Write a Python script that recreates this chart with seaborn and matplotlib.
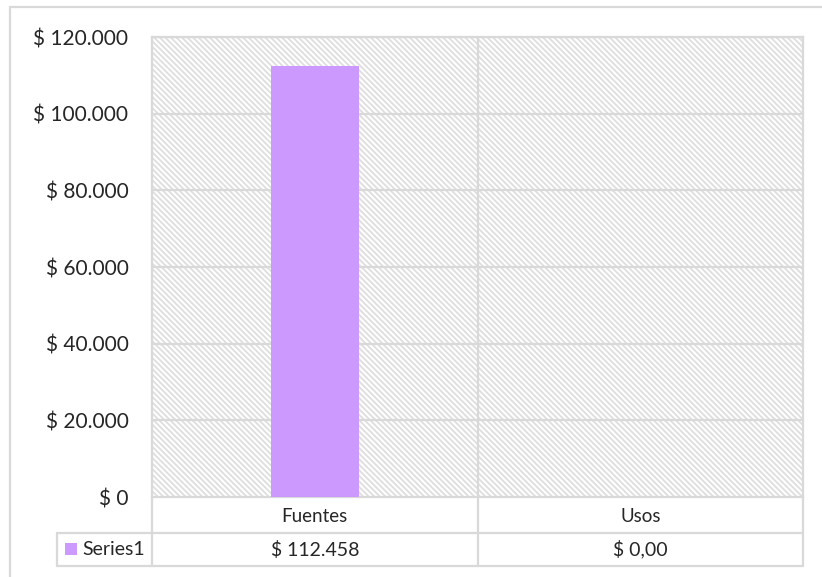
import matplotlib
matplotlib.use("Agg")
import matplotlib.pyplot as plt
from matplotlib.patches import Rectangle
from matplotlib.lines import Line2D
import seaborn as sns

# Data
categories = ["Fuentes", "Usos"]
values = [112458, 0]
value_labels = ["$ 112.458", "$ 0,00"]
series_name = "Series1"
y_ticks = [0, 20000, 40000, 60000, 80000, 100000, 120000]

BAR_COLOR = "#CC99FF"
GRID = "#d9d9d9"
HATCH = "#dedede"
TEXT = "#262626"

sns.set_theme(style="white")
plt.rcParams["font.family"] = ["Lato", "DejaVu Sans"]
plt.rcParams["hatch.color"] = HATCH
plt.rcParams["hatch.linewidth"] = 1.3

W, H = 822, 577
fig = plt.figure(figsize=(W / 100, H / 100), dpi=100)


def fx(px):
    return px / W


def fy(py):
    return 1 - py / H


# plot area in pixel bounds
L, R, T, B = 152, 803, 37, 497
ax = fig.add_axes([fx(L), fy(B), fx(R) - fx(L), fy(T) - fy(B)])

# hatched plot-area background
ax.add_patch(Rectangle((0, 0), 1, 1, transform=ax.transAxes, facecolor="white",
                       edgecolor=HATCH, hatch="\\" * 6, lw=0, zorder=0))

sns.barplot(x=categories, y=values, ax=ax, color=BAR_COLOR, saturation=1,
            width=0.27, linewidth=0, zorder=3)

ax.set_xlim(-0.5, len(categories) - 0.5)
ax.set_ylim(y_ticks[0], y_ticks[-1])
ax.set_yticks(y_ticks)
ax.set_yticklabels([f"$ {v:,.0f}".replace(",", ".") for v in y_ticks],
                   fontsize=15, color=TEXT)
ax.tick_params(axis="y", length=0, pad=17)
ax.set_xticks([])
ax.set_xlabel("")
ax.set_ylabel("")

for v in y_ticks[1:]:
    ax.axhline(v, color=GRID, lw=1.6, zorder=1)
for i in range(1, len(categories)):
    ax.axvline(i - 0.5, color=GRID, lw=1.6, zorder=1)

for s in ax.spines.values():
    s.set_color(GRID)
    s.set_linewidth(1.6)

# data table under the plot area
row1_top, row1_bot, row2_bot = B, 533, 566
table_left = 57
col_edges = [L] + [L + (R - L) * (i + 1) / len(categories) for i in range(len(categories))]


def hline(y, x0, x1):
    fig.add_artist(Line2D([fx(x0), fx(x1)], [fy(y), fy(y)], color=GRID, lw=1.6))


def vline(x, y0, y1):
    fig.add_artist(Line2D([fx(x), fx(x)], [fy(y0), fy(y1)], color=GRID, lw=1.6))


hline(row1_bot, table_left, R)
hline(row2_bot, table_left, R)
vline(table_left, row1_bot, row2_bot)
for x in col_edges:
    vline(x, row1_top, row2_bot)

for i, (cat, lab) in enumerate(zip(categories, value_labels)):
    cx = (col_edges[i] + col_edges[i + 1]) / 2
    fig.text(fx(cx), fy((row1_top + row1_bot) / 2 + 1), cat, ha="center", va="center",
             fontsize=13.5, color=TEXT)
    fig.text(fx(cx), fy((row1_bot + row2_bot) / 2), lab, ha="center", va="center",
             fontsize=14, color=TEXT)

# legend key for the series row
fig.add_artist(Rectangle((fx(65), fy(555)), fx(77) - fx(65), fy(543) - fy(555),
                         facecolor=BAR_COLOR, edgecolor="none"))
fig.text(fx(82), fy((row1_bot + row2_bot) / 2), series_name, ha="left", va="center",
         fontsize=14, color=TEXT)

# chart frame
hline(7, 10, W)
vline(10, 7, H)

fig.savefig("out.png", dpi=100)
